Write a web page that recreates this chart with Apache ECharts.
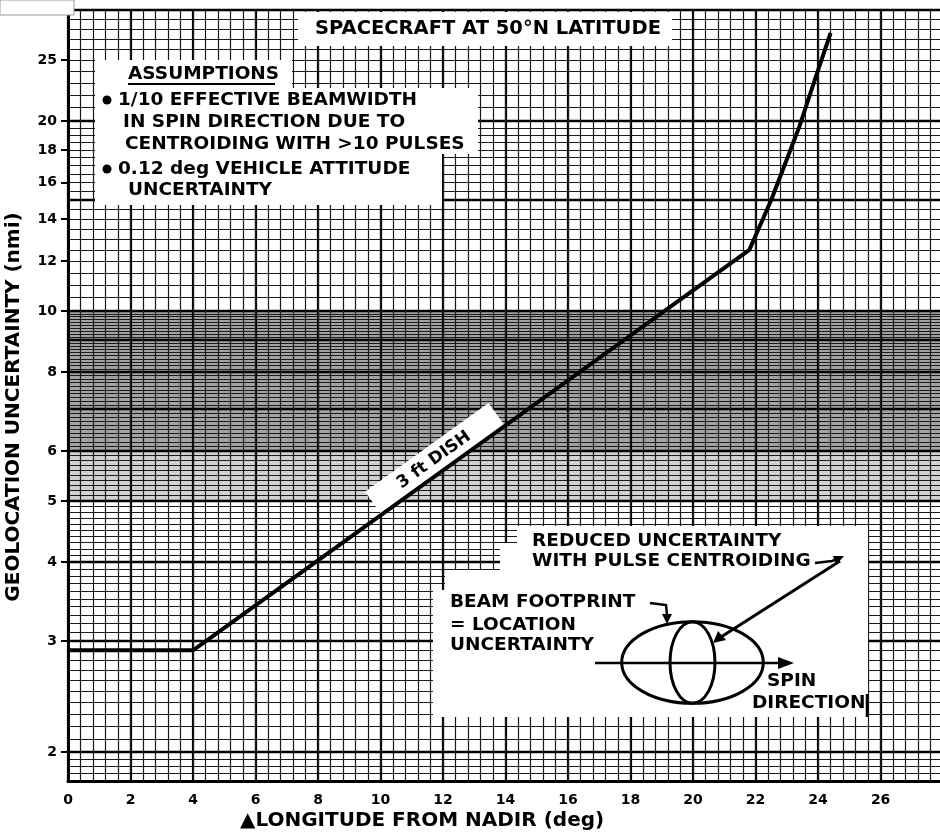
<!DOCTYPE html>
<html><head><meta charset="utf-8">
<script src="https://cdn.jsdelivr.net/npm/echarts@6/dist/echarts.min.js"></script>
<style>html,body{margin:0;padding:0;background:#fff}#c{width:940px;height:834px}</style>
</head><body><div id="c"></div>
<script>
// ---- data ----
const curveX = [0, 4, 21.8, 22.5, 23.0, 23.4, 23.9, 24.4];
const curveY = [2.9, 2.9, 12.5, 15.0, 17.4, 19.6, 23.3, 27.6];
const xTickLabels = [0, 2, 4, 6, 8, 10, 12, 14, 16, 18, 20, 22, 24, 26];
const yTickLabels = [2, 3, 4, 5, 6, 8, 10, 12, 14, 16, 18, 20, 25];
const xMajorRulings = [0, 2, 4, 6, 8, 10, 12, 14, 16, 18, 20, 22, 24, 26];
const yMajorRulings = [2, 3, 4, 5, 6, 7, 8, 9, 10, 15, 20, 30];
const xMinorStep = 0.4;
const yMinorRanges = [[1.8, 2, 0.05], [2, 10, 0.1], [10, 20, 0.5], [20, 30, 1]];
const shadedBands = [[6, 10, 0.36], [5, 6, 0.18]];

function rulings(ranges) {
  const out = [];
  ranges.forEach(([a, b, s]) => {
    const n = Math.round((b - a) / s);
    for (let i = 0; i <= n; i++) out.push(Math.round((a + i * s) * 1000) / 1000);
  });
  return out;
}
const xMinorRulings = rulings([[0, 27.6, xMinorStep]]);
const yMinorRulings = rulings(yMinorRanges);

const FONT = '"DejaVu Sans", sans-serif';
const chart = echarts.init(document.getElementById('c'), null, {renderer: 'canvas'});

const ANG = 35.7 * Math.PI / 180;
function txt(text, x, y, size, extra) {
  return Object.assign({type: 'text', x: x, y: y, z: 6,
    style: {text: text, fill: '#000', font: 'bold ' + (size || 18.5) + 'px ' + FONT, verticalAlign: 'middle', align: 'left'}}, extra || {});
}
const S = {stroke: '#000', lineWidth: 3, fill: null};

chart.setOption({
  animation: false,
  backgroundColor: '#fff',
  grid: {left: 68, right: 0, top: 10, bottom: 53, containLabel: false, outerBoundsMode: 'none'},
  xAxis: [
    {type: 'value', min: 0, max: 27.9, position: 'bottom', z: 1,
     axisLine: {show: true, onZero: false, lineStyle: {color: '#000', width: 3}},
     axisTick: {show: false, customValues: xMajorRulings},
     axisLabel: {customValues: xTickLabels, margin: 12, color: '#000', fontFamily: FONT, fontWeight: 'bold', fontSize: 14, hideOverlap: false},
     splitLine: {show: true, lineStyle: {color: '#000', width: 2.2}}},
    {type: 'value', min: 0, max: 27.9, position: 'bottom', z: 1,
     axisLine: {show: false}, axisLabel: {show: false},
     axisTick: {show: false, customValues: xMinorRulings},
     splitLine: {show: true, lineStyle: {color: '#1a1a1a', width: 1.2}}}
  ],
  yAxis: [
    {type: 'log', logBase: 10, min: 1.8, max: 30, position: 'left', z: 1,
     axisLine: {show: true, onZero: false, lineStyle: {color: '#000', width: 3}},
     axisTick: {show: true, inside: false, length: 7, customValues: yTickLabels, lineStyle: {color: '#000', width: 2}},
     axisLabel: {customValues: yTickLabels, margin: 11, color: '#000', fontFamily: FONT, fontWeight: 'bold', fontSize: 14, hideOverlap: false,
                 formatter: v => String(v)},
     splitLine: {show: false}},
    {type: 'log', logBase: 10, min: 1.8, max: 30, position: 'left', z: 1,
     axisLine: {show: false}, axisLabel: {show: false},
     axisTick: {show: false, customValues: yMinorRulings},
     splitLine: {show: true, lineStyle: {color: '#1a1a1a', width: 1.2}}},
    {type: 'log', logBase: 10, min: 1.8, max: 30, position: 'left', z: 1,
     axisLine: {show: false}, axisLabel: {show: false},
     axisTick: {show: false, customValues: yMajorRulings},
     splitLine: {show: true, lineStyle: {color: '#000', width: 2.4}}}
  ],
  series: [
    {type: 'line', xAxisIndex: 0, yAxisIndex: 0, z: 0, silent: true, symbol: 'none',
     data: [[0, 2]], lineStyle: {width: 0},
     markArea: {silent: true, z: 0,
       data: shadedBands.map(b => [{yAxis: b[1], itemStyle: {color: 'rgba(0,0,0,' + b[2] + ')'}}, {yAxis: b[0]}])}},
    {type: 'line', xAxisIndex: 0, yAxisIndex: 0, z: 4, silent: true, symbol: 'none',
     data: curveX.map((x, i) => [x, curveY[i]]),
     lineStyle: {color: '#000', width: 4, join: 'round'}}
  ],
  graphic: {elements: [
    // scan artifact top-left
    {type: 'rect', z: 6, shape: {x: 0, y: 0, width: 74, height: 15}, style: {fill: '#fff', stroke: '#999', lineWidth: 1}},
    // title box
    {type: 'rect', z: 3, shape: {x: 298, y: 12, width: 374, height: 34}, style: {fill: '#fff'}},
    txt('SPACECRAFT AT 50°N LATITUDE', 315, 29, 19.5),
    // assumptions box
    {type: 'polygon', z: 3, shape: {points: [[95, 60], [292, 60], [292, 88], [478, 88], [478, 154], [442, 154], [442, 205], [95, 205]]}, style: {fill: '#fff'}},
    txt('ASSUMPTIONS', 128, 74),
    {type: 'line', z: 6, shape: {x1: 128, y1: 84, x2: 275, y2: 84}, style: {stroke: '#000', lineWidth: 2}},
    {type: 'circle', z: 6, shape: {cx: 107, cy: 100, r: 4.5}, style: {fill: '#000'}},
    txt('1/10 EFFECTIVE BEAMWIDTH', 118, 100.5),
    txt('IN SPIN DIRECTION DUE TO', 123, 122.5),
    txt('CENTROIDING WITH >10 PULSES', 125, 144.5),
    {type: 'circle', z: 6, shape: {cx: 107, cy: 169, r: 4.5}, style: {fill: '#000'}},
    txt('0.12 deg VEHICLE ATTITUDE', 118, 169),
    txt('UNCERTAINTY', 128, 190),
    // 3 ft DISH label
    {type: 'rect', z: 3, x: 435.5, y: 459.5, rotation: ANG, shape: {x: -76, y: -15, width: 152, height: 30}, style: {fill: '#fff'}},
    txt('3 ft DISH', 434, 460, 17, {rotation: ANG, style: {text: '3 ft DISH', fill: '#000', font: 'bold 17px ' + FONT, align: 'center', verticalAlign: 'middle'}}),
    // lower right inset
    {type: 'polygon', z: 3, shape: {points: [[517, 526], [868, 526], [868, 717], [433, 717], [433, 590], [445, 590], [445, 570], [500, 570], [500, 543], [517, 543]]}, style: {fill: '#fff'}},
    txt('REDUCED UNCERTAINTY', 532, 541.5),
    txt('WITH PULSE CENTROIDING', 532, 561.5),
    {type: 'polyline', z: 6, shape: {points: [[815, 563], [832, 561], [840, 558]]}, style: {stroke: '#000', lineWidth: 2.5, fill: null}},
    {type: 'polygon', z: 6, shape: {points: [[844, 556], [833, 556], [836, 565]]}, style: {fill: '#000'}},
    {type: 'line', z: 6, shape: {x1: 840, y1: 561, x2: 721, y2: 637}, style: {stroke: '#000', lineWidth: 3}},
    {type: 'polygon', z: 6, shape: {points: [[713, 643], [718, 631], [726, 640]]}, style: {fill: '#000'}},
    txt('BEAM FOOTPRINT', 450, 602.5),
    {type: 'polyline', z: 6, shape: {points: [[650, 603], [666, 605], [667, 615]]}, style: {stroke: '#000', lineWidth: 2.5, fill: null}},
    {type: 'polygon', z: 6, shape: {points: [[662, 614], [672, 614], [667, 624]]}, style: {fill: '#000'}},
    txt('= LOCATION', 450, 625),
    txt('UNCERTAINTY', 450, 645),
    {type: 'ellipse', z: 6, shape: {cx: 692.5, cy: 662.5, rx: 70.8, ry: 40.8}, style: S},
    {type: 'ellipse', z: 6, shape: {cx: 692.5, cy: 662.5, rx: 22.5, ry: 40.8}, style: S},
    {type: 'line', z: 6, shape: {x1: 595, y1: 663, x2: 782, y2: 663}, style: {stroke: '#000', lineWidth: 2.5}},
    {type: 'polygon', z: 6, shape: {points: [[794, 663], [778, 657], [778, 669]]}, style: {fill: '#000'}},
    txt('SPIN', 767, 681.5),
    txt('DIRECTION', 752, 703.5),
    {type: 'line', z: 6, shape: {x1: 867, y1: 694, x2: 867, y2: 717}, style: {stroke: '#000', lineWidth: 2.5}},
    // axis names
    txt('▲LONGITUDE FROM NADIR (deg)', 240, 821, 20),
    txt('GEOLOCATION UNCERTAINTY (nmi)', 14, 407, 20, {rotation: Math.PI / 2,
      style: {text: 'GEOLOCATION UNCERTAINTY (nmi)', fill: '#000', font: 'bold 20px ' + FONT, align: 'center', verticalAlign: 'middle'}})
  ]}
});
</script></body></html>
